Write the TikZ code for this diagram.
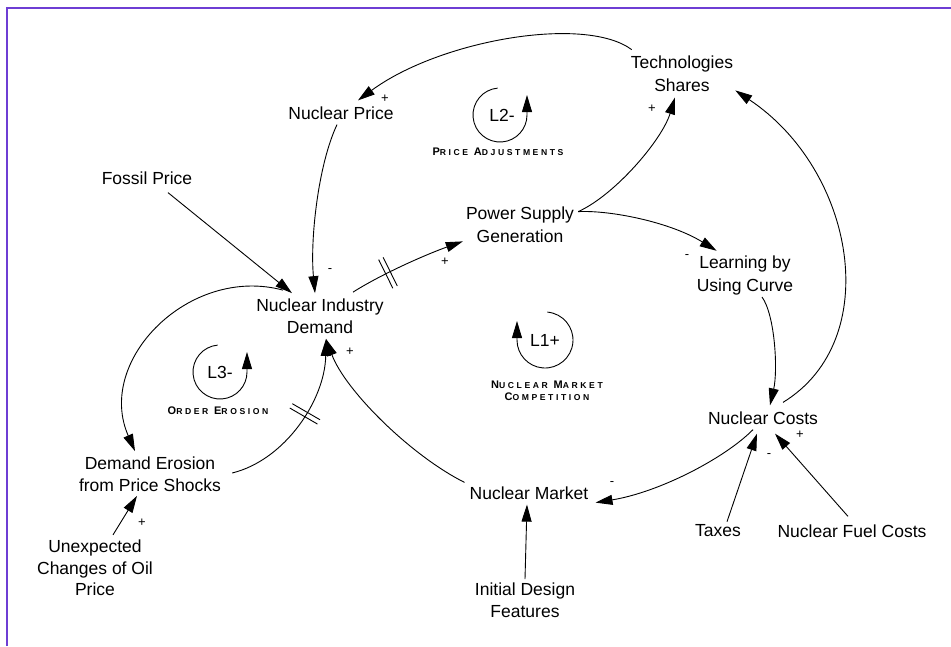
\documentclass[tikz,border=0pt]{standalone}
\usepackage{fontspec}
\setmainfont{Liberation Sans}
\newfontfamily\scfont[LetterSpace=30]{Liberation Sans}
\usetikzlibrary{arrows.meta,decorations.markings}
\definecolor{framecol}{RGB}{110,62,212}
\newcommand\SCap[2]{{\fontsize{11}{12}\selectfont #1}{\fontsize{8.6}{12}\selectfont #2}}
\tikzset{
  var/.style={font=\fontsize{17.5}{22.5}\selectfont, align=center, inner sep=1pt},
  link/.style={line width=0.9pt, -{Triangle[length=17pt,width=10pt]}},
  pol/.style={font=\fontsize{13}{13}\selectfont, inner sep=0pt},
  looptxt/.style={font=\fontsize{17.5}{20}\selectfont, inner sep=0pt},
  looplab/.style={font=\scfont\bfseries, align=center, inner sep=0pt},
  delay/.style={postaction={decorate}, decoration={markings, mark=at position #1 with {\draw[line width=0.9pt,-] (-2.5pt,-16pt) -- (-2.5pt,16pt) (2.5pt,-16pt) -- (2.5pt,16pt);}}},
}
\begin{document}
\begin{tikzpicture}[x=1pt,y=-1pt]
\useasboundingbox (0,0) rectangle (951,646);
\fill[white] (0,0) rectangle (951,646);
\draw[framecol, line width=2.5pt] (7,646) -- (7,8) -- (951,8);

% variables
\node[var] (ts)  at (682,73.5) {Technologies\\Shares};
\node[var] (np)  at (341,113) {Nuclear Price};
\node[var] (fp)  at (147,178) {Fossil Price};
\node[var] (ps)  at (520,224.5) {Power Supply\\Generation};
\node[var] (nid) at (320,316) {Nuclear Industry\\Demand};
\node[var] (luc) at (745,275.4) {Learning by\\Using Curve};
\node[var] (nc)  at (763,418) {Nuclear Costs};
\node[var] (nm)  at (529,493) {Nuclear Market};
\node[var] (taxes) at (718,531) {Taxes};
\node[var] (nfc) at (852,531) {Nuclear Fuel Costs};
\node[var] (de)  at (150,474) {Demand Erosion\\from Price Shocks};
\node[var, font=\fontsize{17.5}{21.5}\selectfont] (uc) at (95,568) {Unexpected\\Changes of Oil\\Price};
\node[var] (idf) at (525,600) {Initial Design\\Features};

% connectors
\draw[link] ([shift={(2pt,5pt)}]ts.north west) .. controls (585,15) and (440,40) .. ([shift={(17pt,5pt)}]np.north);
\draw[link] ([shift={(-4pt,-4pt)}]np.south) .. controls (318,165) and (310,240) .. ([shift={(-5pt,4pt)}]nid.north);
\draw[link] ([shift={(21pt,-7pt)}]fp.south) -- ([shift={(-28pt,4pt)}]nid.north);
\draw[link, delay=0.33] ([shift={(33pt,5pt)}]nid.north) .. controls (385,272) and (430,253) .. ([shift={(-2pt,2pt)}]ps.south west);
\draw[link] ([shift={(3pt,-6pt)}]ps.north east) .. controls (615,195) and (662,140) .. ([shift={(-7pt,-5pt)}]ts.south);
\draw[link] ([shift={(3pt,-6pt)}]ps.north east) .. controls (610,210) and (670,222) .. ([shift={(21pt,4pt)}]luc.north west);
\draw[link] ([shift={(17pt,-1pt)}]luc.south) .. controls (775,315) and (778,370) .. ([shift={(7pt,5pt)}]nc.north);
\draw[link] ([shift={(20pt,8pt)}]nc.north) .. controls (885,340) and (855,170) .. ([shift={(1pt,2pt)}]ts.south east);
\draw[link] ([shift={(-10pt,-4pt)}]nc.south) .. controls (725,458) and (660,492) .. ([shift={(6pt,-2pt)}]nm.south east);
\draw[link] ([shift={(9pt,2pt)}]taxes.north) -- ([shift={(-6pt,-8pt)}]nc.south);
\draw[link] ([shift={(-4pt,7pt)}]nfc.north) -- ([shift={(12pt,-8pt)}]nc.south);
\draw[link] ([yshift=2pt]idf.north) -- ([shift={(-2pt,-4pt)}]nm.south);
\draw[link] ([shift={(-4pt,3pt)}]nm.north west) .. controls (410,455) and (345,390) .. ([shift={(6pt,-4pt)}]nid.south);
\draw[link, delay=0.55] ([shift={(10pt,1pt)}]de.east) .. controls (285,460) and (325,400) .. ([shift={(6pt,-4pt)}]nid.south);
\draw[link] ([shift={(-37pt,7pt)}]nid.north) .. controls (190,265) and (95,360) .. ([shift={(-15pt,4pt)}]de.north);
\draw[link] ([shift={(18pt,4pt)}]uc.north) -- ([shift={(-13pt,-3pt)}]de.south);

% polarities
\node[pol] (p1) at (385,99) {+};
\node[pol] (p2) at (330,271) {-};
\node[pol] (p3) at (445,262) {+};
\node[pol] (p4) at (652,109) {+};
\node[pol] (p5) at (687,257) {-};
\node[pol] (p6) at (800,435) {+};
\node[pol] (p7) at (769,456) {-};
\node[pol] (p8) at (612,484) {-};
\node[pol] (p9) at (350,352) {+};
\node[pol] (p10) at (142,523) {+};

% loops
\draw[link] ([shift={(95:27pt)}]500,115) arc[start angle=95, end angle=360, radius=27pt] -- ++(0pt,20pt);
\node[looptxt] (l2) at (502,115) {L2-};
\node[looplab] (l2lab) at (498,152) {\SCap{P}{RICE} \SCap{A}{DJUSTMENTS}};

\draw[link] ([shift={(95:27pt)}]220,372) arc[start angle=95, end angle=360, radius=27pt] -- ++(0pt,20pt);
\node[looptxt] (l3) at (220,372) {L3-};
\node[looplab] (l3lab) at (218,411) {\SCap{O}{RDER} \SCap{E}{ROSION}};

\draw[link] ([shift={(85:28pt)}]545,340) arc[start angle=85, end angle=-180, radius=28pt] -- ++(0pt,19pt);
\node[looptxt] (l1) at (545,340) {L1+};
\node[looplab] (l1lab) at (547,391) {\SCap{N}{UCLEAR} \SCap{M}{ARKET}\\[0pt]\SCap{C}{OMPETITION}};
\end{tikzpicture}
\end{document}
